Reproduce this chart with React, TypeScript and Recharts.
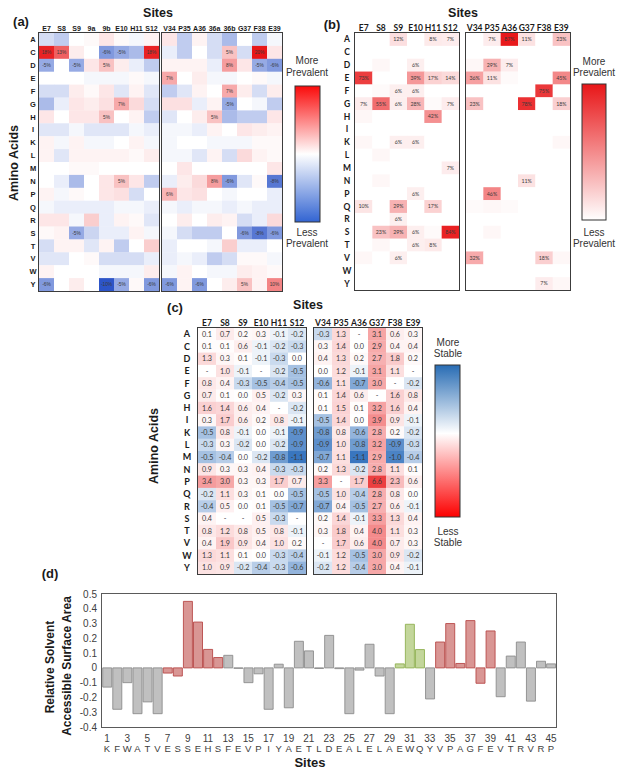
import React from 'react';
import { ScatterChart, Scatter, XAxis, YAxis, BarChart, Bar, Cell } from 'recharts';

// ---------- categories ----------
const aminoAcids = ['A', 'C', 'D', 'E', 'F', 'G', 'H', 'I', 'K', 'L', 'M', 'N', 'P', 'Q', 'R', 'S', 'T', 'V', 'W', 'Y'];
const sitesALeft = ['E7', 'S8', 'S9', '9a', '9b', 'E10', 'H11', 'S12'];
const sitesARight = ['V34', 'P35', 'A36', '36a', '36b', 'G37', 'F38', 'E39'];
const sitesLeft = ['E7', 'S8', 'S9', 'E10', 'H11', 'S12'];
const sitesRight = ['V34', 'P35', 'A36', 'G37', 'F38', 'E39'];

// ---------- panel (a): prevalence difference (%) ----------
const prevDiffLeft = [
  [-2, -3, 0, 0.5, 2, 0.5, -0.5, 1],
  [18, 13, 1.5, 0, -6, -5, -4, 18],
  [-5, 0, -5, 2, 5, 1.5, -1, -3],
  [0, 0, 0, -0.5, -0.5, -0.5, 0.5, -0.5],
  [-2, -2, 1.5, 0.5, 2, -1.5, 1, -1.5],
  [-4, -1, 2, 1.5, 2.5, 7, 3, -2],
  [2, 0, 2, 2, 5, 0, 1, -3],
  [-1.5, -1.5, -0.5, -1.5, -1.5, -1.5, -0.5, -1],
  [1, -0.5, 1, -0.5, -0.5, 0, 1, -0.5],
  [1, -1.5, 1, 1, 1, 1, 0.5, 1.5],
  [0, 0, 0.5, 0.5, 0, 0, 0, 0],
  [0, -1, -4, 0, 2, 5, 2, -3],
  [1, -0.5, 0.5, 0, 2, 2.5, -2, 0],
  [-0.5, -1, -1, -1, -1, -0.5, -0.5, -1],
  [2, 2, -0.5, 4, -1, 1, 0.5, -1.5],
  [0.5, 1, -5, -2.5, -1, -1, 1, -0.5],
  [-2, 1, 1, -1.5, 1, -3, 0, 4],
  [-1.5, -1.5, 0, 0.5, -2, -2, -2, -1],
  [1, 0, 0, 0, -0.5, -0.5, -0.5, 1.5],
  [-6, 0, 1.5, 0, -10, -5, 0.5, -6],
];
const prevDiffRight = [
  [2, -3, 1, -2, -4, 0, -3, -0.5],
  [-1, -3, 0, -2, 5, -2, 20, 2],
  [1, 1, 1, -1, 8, 2, -5, -6],
  [7, 0, 1.5, -0.5, -0.5, 0, 0.5, -0.5],
  [-3, -1.5, 1, 0, 7, 1.5, -2, 1.5],
  [2.5, 2.5, -1, 1, -5, 0, -0.5, -3],
  [-1.5, 0, 1.5, 5, -4, -3, -3, 2],
  [-0.5, -0.5, -1, 1, 0, 2, 1.5, 1],
  [-0.5, 0, 0, -0.5, -0.5, -0.5, 0.5, 0.5],
  [-0.5, -0.5, -1.5, 1, -2, 3, 1, 0.5],
  [0, 2, 0, 0, 0, 0, 0, 2],
  [-1, 1.5, 3, 8, -6, -1.5, 0.5, -8],
  [6, 2, 2.5, 0, -0.5, 0, 0, -1],
  [-0.5, -1, -0.5, -0.5, -1, -0.5, -1, -1],
  [0, 1.5, 0, 1.5, 1, -2, -1, 3],
  [-0.5, -2, -3, -3, 0, -6, -8, -6],
  [-1, 0, 0, -0.5, 4, -1, -1, 0],
  [-1, -0.5, -1, -3, -2, 0.5, 0.5, -0.5],
  [-0.5, 1, 0, -0.5, -0.5, 1.5, 1, 0.5],
  [-6, 1, -6, 0, 1.5, 5, 1, 10],
];

// ---------- panel (b): prevalence (%) ----------
const prevLeft = [
  [0, 0, 12, 0, 8, 7],
  [0, 0, 0, 0, 0, 0],
  [0, 3, 0, 6, 0, 0],
  [73, 0, 0, 39, 17, 14],
  [0, 2, 6, 6, 0, 0],
  [7, 55, 6, 28, 2, 7],
  [3, 0, 0, 0, 42, 0],
  [0, 0, 0, 0, 0, 0],
  [3, 0, 6, 6, 0, 0],
  [0, 3, 0, 0, 0, 0],
  [0, 0, 0, 0, 0, 7],
  [0, 3, 0, 0, 0, 0],
  [0, 0, 0, 6, 0, 0],
  [10, 0, 29, 0, 17, 0],
  [0, 0, 6, 0, 0, 0],
  [0, 23, 29, 6, 2, 84],
  [0, 3, 0, 6, 8, 0],
  [3, 0, 6, 0, 0, 0],
  [0, 0, 0, 0, 0, 0],
  [0, 0, 0, 0, 0, 0],
];
const prevRight = [
  [0, 7, 87, 11, 0, 23],
  [0, 0, 0, 0, 0, 0],
  [3, 29, 7, 0, 0, 0],
  [36, 11, 2, 0, 0, 45],
  [0, 0, 0, 0, 75, 0],
  [23, 0, 0, 78, 0, 18],
  [0, 0, 0, 0, 0, 0],
  [0, 0, 0, 0, 0, 0],
  [0, 0, 0, 0, 0, 3],
  [0, 0, 0, 0, 0, 0],
  [0, 0, 0, 0, 0, 0],
  [0, 0, 0, 11, 0, 0],
  [0, 46, 0, 0, 0, 0],
  [2, 3, 2, 0, 0, 0],
  [0, 0, 0, 0, 0, 0],
  [0, 3, 0, 0, 0, 0],
  [0, 0, 0, 0, 0, 0],
  [32, 0, 0, 0, 18, 3],
  [0, 0, 0, 0, 0, 0],
  [0, 0, 0, 0, 7, 3],
];

// ---------- panel (c): stability (ddG), null = "-" ----------
const ddgLeft = [
  [0.1, 0.7, 0.2, 0.3, -0.1, -0.2],
  [0.1, 0.1, 0.6, -0.1, -0.2, -0.3],
  [1.3, 0.3, 0.1, -0.1, -0.3, 0.0],
  [null, 1.0, -0.1, null, -0.2, -0.5],
  [0.8, 0.4, -0.3, -0.5, -0.4, -0.5],
  [0.7, 0.1, 0.0, 0.5, -0.2, 0.3],
  [1.6, 1.4, 0.6, 0.4, null, -0.2],
  [0.3, 1.7, 0.6, 0.2, 0.8, -0.1],
  [-0.5, 0.8, -0.1, 0.0, -0.1, -0.9],
  [-0.3, 0.3, -0.2, 0.0, -0.2, -0.9],
  [-0.5, -0.4, 0.0, -0.2, -0.8, -1.1],
  [0.9, 0.3, 0.3, 0.4, -0.3, -0.3],
  [3.4, 3.0, 0.3, 0.3, 1.7, 0.7],
  [-0.2, 1.1, 0.3, 0.1, 0.0, -0.5],
  [-0.4, 0.5, 0.0, 0.1, -0.5, -0.7],
  [0.4, null, null, 0.5, -0.3, null],
  [0.8, 1.2, 0.8, 0.5, 0.8, -0.1],
  [0.4, 1.9, 0.9, 0.4, 1.0, 0.2],
  [1.3, 1.1, 0.1, 0.0, -0.3, -0.4],
  [1.0, 0.9, -0.2, -0.4, -0.3, -0.6],
];
const ddgRight = [
  [-0.3, 1.3, null, 3.1, 0.6, 0.3],
  [0.3, 1.4, 0.0, 2.9, 0.4, 0.4],
  [0.4, 1.3, 0.2, 2.7, 1.8, 0.2],
  [0.0, 1.2, -0.1, 3.1, 1.1, null],
  [-0.6, 1.1, -0.7, 3.0, null, -0.2],
  [0.1, 1.4, 0.6, null, 1.6, 0.8],
  [0.1, 1.5, 0.1, 3.2, 1.6, 0.4],
  [-0.5, 1.4, 0.0, 3.9, 0.9, -0.1],
  [-0.8, 0.8, -0.6, 2.8, 0.2, -0.2],
  [-0.9, 1.0, -0.8, 3.2, -0.9, -0.3],
  [-0.7, 1.1, -1.1, 2.9, -1.0, -0.4],
  [0.2, 1.3, -0.2, 2.8, 1.1, 0.1],
  [3.3, null, 1.7, 6.6, 2.3, 0.6],
  [-0.5, 1.0, -0.4, 2.8, 0.8, 0.0],
  [-0.7, 0.4, -0.5, 2.7, 0.6, -0.1],
  [0.2, 1.4, -0.1, 3.3, 1.3, 0.4],
  [0.3, 1.8, 0.4, 4.0, 1.1, 0.3],
  [null, 1.7, 0.6, 4.0, 0.7, 0.3],
  [-0.1, 1.2, -0.5, 3.0, 0.9, -0.2],
  [-0.2, 1.2, -0.4, 3.0, 0.4, -0.1],
];

// ---------- panel (d): relative solvent accessible surface area ----------
const siteNumbers = [1, 2, 3, 4, 5, 6, 7, 8, 9, 10, 11, 12, 13, 14, 15, 16, 17, 18, 19, 20, 21, 22, 23, 24, 25, 26, 27, 28, 29, 30, 31, 32, 33, 34, 35, 36, 37, 38, 39, 40, 41, 42, 43, 44, 45];
const residues = ['K', 'F', 'W', 'A', 'T', 'V', 'E', 'S', 'S', 'E', 'H', 'S', 'F', 'E', 'V', 'P', 'I', 'Y', 'A', 'E', 'T', 'L', 'D', 'E', 'A', 'L', 'E', 'L', 'A', 'E', 'W', 'Q', 'Y', 'V', 'P', 'A', 'G', 'F', 'E', 'V', 'T', 'R', 'V', 'R', 'P'];
const rsaValues = [-0.13, -0.28, -0.1, -0.31, -0.23, -0.31, -0.035, -0.055, 0.45, 0.31, 0.125, 0.07, 0.085, -0.003, -0.1, -0.04, -0.28, 0.025, -0.27, 0.18, 0.115, -0.004, 0.22, -0.005, -0.31, -0.015, 0.16, -0.055, -0.31, 0.027, 0.295, 0.124, -0.21, 0.175, 0.3, 0.03, 0.32, -0.104, 0.25, -0.195, 0.08, 0.175, -0.225, 0.045, 0.027];
const rsaGroups = ['g', 'g', 'g', 'g', 'g', 'g', 'r', 'r', 'r', 'r', 'r', 'r', 'g', 'g', 'g', 'g', 'g', 'g', 'g', 'g', 'g', 'g', 'g', 'g', 'g', 'g', 'g', 'g', 'g', 'v', 'v', 'v', 'g', 'r', 'r', 'r', 'r', 'r', 'r', 'g', 'g', 'g', 'g', 'g', 'g'];
const rsaTicks = [0.5, 0.4, 0.3, 0.2, 0.1, 0, -0.1, -0.2, -0.3, -0.4];

const groupFill: Record<string, string> = { g: '#c0c0c0', r: '#d99694', v: '#c3d69b' };
const groupStroke: Record<string, string> = { g: '#8c8c8c', r: '#b84a48', v: '#8fb050' };

const ARIAL = '"Liberation Sans", Arial, sans-serif';
const CALIBRI = 'Lato, "Open Sans", sans-serif';

const mix = (c: number[], t: number) =>
  `rgb(${Math.round(255 + (c[0] - 255) * t)},${Math.round(255 + (c[1] - 255) * t)},${Math.round(255 + (c[2] - 255) * t)})`;
const RED = [232, 22, 24];
const BLUE = [45, 85, 200];
const BLUE_C = [48, 112, 188];
const colorA = (v: number) => (v >= 0 ? mix(RED, Math.min(v / 19, 1)) : mix(BLUE, Math.min(-v / 10, 1)));
const colorB = (v: number) => mix(RED, Math.min(v / 88, 1));
const colorC = (v: number | null) =>
  v == null ? '#ffffff' : v >= 0 ? mix(RED, Math.min(v / 8, 1)) : mix(BLUE_C, Math.min(-v / 1.15, 1));
const labelPct = (v: number) => (Math.abs(v) >= 5 ? `${v}%` : null);
const labelDdg = (v: number | null) => (v == null ? '-' : v.toFixed(1));

function Frame({ left, top, w, h, color = '#3c3c3c', bw = 1.4 }: any) {
  return (
    <div
      style={{
        position: 'absolute',
        left: left - bw / 2,
        top: top - bw / 2,
        width: w + bw,
        height: h + bw,
        border: `${bw}px solid ${color}`,
        boxSizing: 'border-box',
        pointerEvents: 'none',
      }}
    />
  );
}

function HeatBlock(p: any) {
  const { left, top, w, h, cols, rows, vals, color, label, labelFont, labelFamily, showRows, rowCx, rowFont, headerCy, headerFont, family } = p;
  const yW = showRows ? 24 : 0;
  const xH = 14;
  const chartLeft = left - yW;
  const chartTop = top - xH;
  const nC = cols.length;
  const nR = rows.length;
  const cw = w / nC;
  const ch = h / nR;
  const data: any[] = [];
  vals.forEach((row: any[], r: number) => row.forEach((v: any, c: number) => data.push({ x: c, y: r, v })));
  const shape = (sp: any) => {
    const { cx, cy, payload } = sp;
    const lab = label(payload.v);
    return (
      <g>
        <rect x={cx - cw / 2} y={cy - ch / 2} width={cw + 0.3} height={ch + 0.3} fill={color(payload.v)} />
        {lab != null && (
          <text x={cx} y={cy} dy={labelFont * 0.36} textAnchor="middle" fontSize={labelFont} fontFamily={labelFamily} fill="#3a3a3a">
            {lab}
          </text>
        )}
      </g>
    );
  };
  return (
    <>
      <div style={{ position: 'absolute', left: chartLeft, top: chartTop }}>
        <ScatterChart width={w + yW} height={h + xH} margin={{ top: 0, right: 0, bottom: 0, left: 0 }}>
          <XAxis
            type="number"
            dataKey="x"
            orientation="top"
            domain={[-0.5, nC - 0.5]}
            ticks={cols.map((_: any, i: number) => i)}
            interval={0}
            height={xH}
            axisLine={false}
            tickLine={false}
            allowDataOverflow
            tick={(t: any) => (
              <text x={t.x} y={headerCy - chartTop} dy={headerFont * 0.36} textAnchor="middle" fontSize={headerFont} fontWeight="bold" fontFamily={family} fill="#1a1a1a">
                {cols[t.payload.value]}
              </text>
            )}
          />
          <YAxis
            type="number"
            dataKey="y"
            reversed
            domain={[-0.5, nR - 0.5]}
            ticks={rows.map((_: any, i: number) => i)}
            interval={0}
            width={yW}
            hide={!showRows}
            axisLine={false}
            tickLine={false}
            allowDataOverflow
            tick={(t: any) => (
              <text x={rowCx - chartLeft} y={t.y} dy={rowFont * 0.36} textAnchor="middle" fontSize={rowFont} fontWeight="bold" fontFamily={family} fill="#1a1a1a">
                {rows[t.payload.value]}
              </text>
            )}
          />
          <Scatter data={data} shape={shape} isAnimationActive={false} />
        </ScatterChart>
      </div>
      <Frame left={left} top={top} w={w} h={h} />
    </>
  );
}

const rsaData = siteNumbers.map((s, i) => ({ site: s, res: residues[i], value: rsaValues[i], group: rsaGroups[i] }));

function RsaChart() {
  return (
    <>
      <div style={{ position: 'absolute', left: 0, top: 580 }}>
        <BarChart width={560} height={191} data={rsaData} margin={{ top: 14, right: 4, left: 0, bottom: 4 }} barCategoryGap="7%">
          <XAxis
            dataKey="site"
            interval={0}
            height={40}
            axisLine={false}
            tickLine={false}
            tick={(t: any) => {
              const s = t.payload.value;
              return (
                <g>
                  {s % 2 === 1 && (
                    <text x={t.x} y={162} textAnchor="middle" fontSize={10} fontFamily={ARIAL} fill="#404040">
                      {s}
                    </text>
                  )}
                  <text x={t.x} y={172} textAnchor="middle" fontSize={9.5} fontFamily={ARIAL} fill="#404040">
                    {residues[s - 1]}
                  </text>
                </g>
              );
            }}
          />
          <YAxis
            domain={[-0.4, 0.5]}
            ticks={rsaTicks}
            interval={0}
            width={102}
            axisLine={false}
            tickLine={false}
            allowDataOverflow
            tick={(t: any) => (
              <text x={97} y={t.y} dy={3.5} textAnchor="end" fontSize={10} fontFamily={ARIAL} fill="#404040">
                {String(t.payload.value)}
              </text>
            )}
          />
          <Bar dataKey="value" isAnimationActive={false} strokeWidth={0.9}>
            {rsaData.map((d, i) => (
              <Cell key={i} fill={groupFill[d.group]} stroke={groupStroke[d.group]} />
            ))}
          </Bar>
        </BarChart>
      </div>
      <Frame left={102} top={594} w={454} h={133} color="#5a5a5a" bw={1.5} />
    </>
  );
}

function Overlay() {
  const t = (x: number, y: number, s: string, size: number, bold = true, extra: any = {}) => (
    <text x={x} y={y} dy={size * 0.36} textAnchor="middle" fontSize={size} fontWeight={bold ? 'bold' : 'normal'} fontFamily={ARIAL} fill="#1a1a1a" {...extra}>
      {s}
    </text>
  );
  const rot = (x: number, y: number, s: string, size: number) => (
    <text x={0} y={0} dy={size * 0.36} textAnchor="middle" fontSize={size} fontWeight="bold" fontFamily={ARIAL} fill="#1a1a1a" transform={`translate(${x},${y}) rotate(-90)`}>
      {s}
    </text>
  );
  return (
    <svg width={623} height={771} style={{ position: 'absolute', left: 0, top: 0, pointerEvents: 'none' }}>
      <defs>
        <linearGradient id="gA" x1="0" y1="0" x2="0" y2="1">
          <stop offset="0" stopColor="rgb(250,10,10)" />
          <stop offset="0.5" stopColor="#ffffff" />
          <stop offset="1" stopColor="rgb(50,100,210)" />
        </linearGradient>
        <linearGradient id="gB" x1="0" y1="0" x2="0" y2="1">
          <stop offset="0" stopColor="rgb(232,22,24)" />
          <stop offset="1" stopColor="#ffffff" />
        </linearGradient>
        <linearGradient id="gC" x1="0" y1="0" x2="0" y2="1">
          <stop offset="0" stopColor="rgb(40,108,180)" />
          <stop offset="0.45" stopColor="#ffffff" />
          <stop offset="1" stopColor="rgb(252,0,0)" />
        </linearGradient>
      </defs>
      {/* panel a */}
      {t(21, 21, '(a)', 13)}
      {t(158, 12, 'Sites', 12.5)}
      {rot(13, 163, 'Amino Acids', 12.5)}
      <rect x={295} y={86} width={25} height={136} fill="url(#gA)" stroke="#333" strokeWidth={1} />
      {t(307, 60, 'More', 10, false, { fill: '#333' })}
      {t(307, 72, 'Prevalent', 10, false, { fill: '#333' })}
      {t(307, 232, 'Less', 10, false, { fill: '#333' })}
      {t(307, 243, 'Prevalent', 10, false, { fill: '#333' })}
      {/* panel b */}
      {t(332, 24, '(b)', 13)}
      {t(463, 12, 'Sites', 12.5)}
      <rect x={582} y={84} width={24} height={136} fill="url(#gB)" stroke="#333" strokeWidth={1} />
      {t(594, 61, 'More', 10, false, { fill: '#333' })}
      {t(594, 72, 'Prevalent', 10, false, { fill: '#333' })}
      {t(594, 232, 'Less', 10, false, { fill: '#333' })}
      {t(594, 243, 'Prevalent', 10, false, { fill: '#333' })}
      {/* panel c */}
      {t(175, 307, '(c)', 13)}
      {t(308, 304, 'Sites', 12.5)}
      {rot(153, 446, 'Amino Acids', 12.5)}
      <rect x={435} y={365} width={25} height={152} fill="url(#gC)" stroke="#333" strokeWidth={1} />
      {t(448, 342, 'More', 10, false, { fill: '#333' })}
      {t(448, 353, 'Stable', 10, false, { fill: '#333' })}
      {t(448, 531, 'Less', 10, false, { fill: '#333' })}
      {t(448, 542, 'Stable', 10, false, { fill: '#333' })}
      {/* panel d */}
      {t(50, 573, '(d)', 13)}
      {rot(50, 667, 'Relative Solvent', 12)}
      {rot(67, 666, 'Accessible Surface Area', 12)}
      {t(310, 762, 'Sites', 13)}
    </svg>
  );
}

export default function App() {
  return (
    <div style={{ position: 'absolute', left: 0, top: 0, width: 623, height: 771, background: '#fff', fontFamily: ARIAL }}>
      <HeatBlock left={39} top={33} w={120} h={258} cols={sitesALeft} rows={aminoAcids} vals={prevDiffLeft} color={colorA} label={labelPct}
        labelFont={4.8} labelFamily={ARIAL} showRows rowCx={33} rowFont={7.5} headerCy={28} headerFont={7} family={ARIAL} />
      <HeatBlock left={162} top={33} w={120} h={258} cols={sitesARight} rows={aminoAcids} vals={prevDiffRight} color={colorA} label={labelPct}
        labelFont={4.8} labelFamily={ARIAL} showRows={false} rowCx={0} rowFont={7.5} headerCy={28} headerFont={7} family={ARIAL} />
      <HeatBlock left={355} top={33} w={104} h={257} cols={sitesLeft} rows={aminoAcids} vals={prevLeft} color={colorB} label={labelPct}
        labelFont={5.3} labelFamily={CALIBRI} showRows rowCx={347} rowFont={8.5} headerCy={28} headerFont={8.5} family={CALIBRI} />
      <HeatBlock left={466} top={33} w={104} h={257} cols={sitesRight} rows={aminoAcids} vals={prevRight} color={colorB} label={labelPct}
        labelFont={5.3} labelFamily={CALIBRI} showRows={false} rowCx={0} rowFont={8.5} headerCy={28} headerFont={8.5} family={CALIBRI} />
      <HeatBlock left={198} top={328} w={108} h={246} cols={sitesLeft} rows={aminoAcids} vals={ddgLeft} color={colorC} label={labelDdg}
        labelFont={7.2} labelFamily={CALIBRI} showRows rowCx={187} rowFont={9} headerCy={323} headerFont={8.5} family={CALIBRI} />
      <HeatBlock left={314} top={328} w={108} h={246} cols={sitesRight} rows={aminoAcids} vals={ddgRight} color={colorC} label={labelDdg}
        labelFont={7.2} labelFamily={CALIBRI} showRows={false} rowCx={0} rowFont={9} headerCy={323} headerFont={8.5} family={CALIBRI} />
      <RsaChart />
      <Overlay />
    </div>
  );
}
